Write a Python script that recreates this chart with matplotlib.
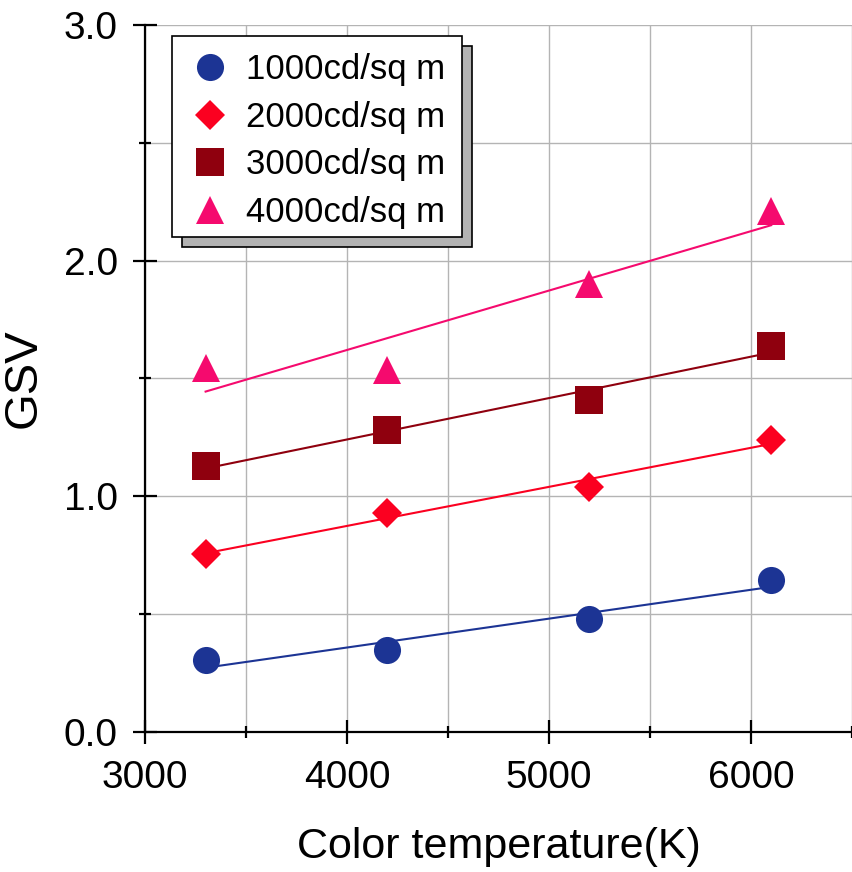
import matplotlib
matplotlib.use('Agg')
import matplotlib.pyplot as plt
import numpy as np
from matplotlib.patches import Rectangle
from matplotlib.ticker import MultipleLocator

plt.rcParams['font.family'] = ['Liberation Sans', 'DejaVu Sans']

# data
color_temp = [3300, 4200, 5200, 6100]
gsv_1000 = [0.305, 0.348, 0.479, 0.645]
gsv_2000 = [0.755, 0.929, 1.039, 1.239]
gsv_3000 = [1.129, 1.281, 1.409, 1.638]
gsv_4000 = [1.544, 1.536, 1.900, 2.210]
labels = ['1000cd/sq m', '2000cd/sq m', '3000cd/sq m', '4000cd/sq m']

series = [gsv_1000, gsv_2000, gsv_3000, gsv_4000]
colors = ['#1c3494', '#fb0020', '#8f000e', '#f50a6e']
markers = ['o', 'D', 's', '^']
msizes = [19.5, 15.5, 19.5, 19.5]

W, H = 853, 872
fig = plt.figure(figsize=(W / 100, H / 100), dpi=100)
ax = fig.add_axes([145 / W, 1 - 732 / H, (852 - 145) / W, (732 - 25) / H])

x = np.array(color_temp, dtype=float)
handles = []
for ys, c, m, ms, lab in zip(series, colors, markers, msizes, labels):
    # linear fit line through the points
    k, b = np.polyfit(x, ys, 1)
    ax.plot([x[0], x[-1]], [k * x[0] + b, k * x[-1] + b], color=c, lw=1.5, zorder=3)
    h, = ax.plot(x, ys, linestyle='none', marker=m, ms=ms, color=c,
                 markeredgewidth=0, zorder=4, label=lab)
    handles.append(h)

ax.set_xlim(3000, 6500)
ax.set_ylim(0, 3.0)
ax.xaxis.set_major_locator(MultipleLocator(1000))
ax.xaxis.set_minor_locator(MultipleLocator(500))
ax.yaxis.set_major_locator(MultipleLocator(1.0))
ax.yaxis.set_minor_locator(MultipleLocator(0.5))
ax.yaxis.set_major_formatter(matplotlib.ticker.FormatStrFormatter('%.1f'))

ax.grid(True, which='both', color='#b4b4b4', lw=1.0, zorder=0)
ax.set_axisbelow(True)
for s in ['top', 'right']:
    ax.spines[s].set_visible(False)
for s in ['left', 'bottom']:
    ax.spines[s].set_linewidth(1.6)

ax.tick_params(which='major', direction='inout', length=17, width=1.6,
               labelsize=28, pad=12)
ax.tick_params(which='minor', direction='inout', length=9, width=1.6)
ax.tick_params(axis='y', which='major', pad=11)

ax.set_xlabel('Color temperature(K)', fontsize=31, labelpad=22)
ax.set_ylabel('GSV', fontsize=34, labelpad=13)

# legend box with a flat grey shadow
shadow = Rectangle((182 / W, 1 - 247 / H), 290 / W, 201 / H, transform=fig.transFigure,
                   facecolor='#b3b3b3', edgecolor='black', lw=1.2, zorder=5)
box = Rectangle((172 / W, 1 - 237 / H), 290 / W, 201 / H, transform=fig.transFigure,
                facecolor='white', edgecolor='black', lw=1.2, zorder=6)
fig.patches.extend([shadow, box])

leg = fig.legend(handles=handles, loc='center', frameon=False, fontsize=25,
                 bbox_to_anchor=(317 / W, 1 - 141 / H), handlelength=1.2,
                 handletextpad=0.45, labelspacing=0.42, borderpad=0, numpoints=1)
leg.set_zorder(7)

fig.savefig('out.png', dpi=100)
